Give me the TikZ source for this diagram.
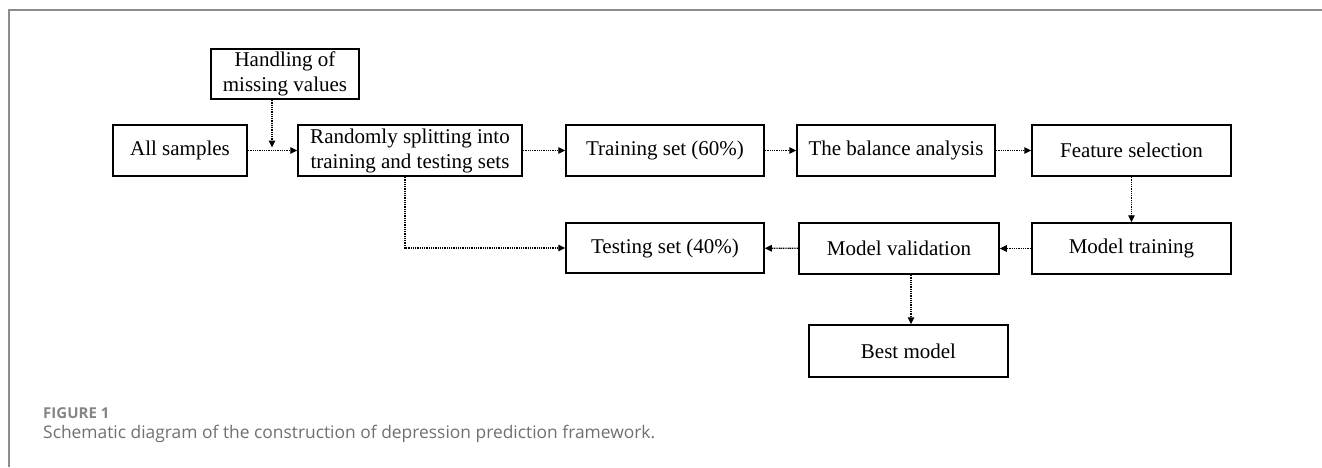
\documentclass[tikz,border=0pt]{standalone}
\usepackage{fontspec}
\setmainfont{Liberation Serif}
\newfontfamily\capfont{Open Sans}
\usetikzlibrary{arrows.meta}
\definecolor{framegray}{HTML}{8C8C8C}
\definecolor{capgray}{HTML}{707070}
\tikzset{
  box/.style={draw=black, line width=1.5pt, inner sep=0pt, align=center,
    font=\fontsize{21}{25}\selectfont, minimum width=198pt, minimum height=51pt},
  arr/.style={line width=1.3pt, dash pattern=on 1.1pt off 0.7pt,
    -{Triangle[length=7pt,width=6.5pt]}},
  capline/.style={anchor=base west, inner sep=0pt, text=capgray}
}
\begin{document}
\begin{tikzpicture}[x=1pt,y=-1pt]
\useasboundingbox (0,0) rectangle (1322,467);
% frame
\draw[framegray, line width=1.8pt] (9,467) -- (9,10) -- (1322,10);
% boxes
\node[box, minimum width=148pt, minimum height=50pt] (hand) at (285,74) {Handling of\\missing values};
\node[box, minimum width=134pt] (all) at (180,150.5) {All samples};
\node[box, minimum width=224pt] (rand) at (410,150.5) {Randomly splitting into\\training and testing sets};
\node[box] (train) at (665,150.5) {Training set (60\%)};
\node[box] (bal) at (896,150.5) {The balance analysis};
\node[box, minimum width=199pt] (feat) at (1131.5,150.5) {Feature selection};
\node[box, minimum height=50pt] (test) at (665,248) {Testing set (40\%)};
\node[box, minimum width=200pt] (val) at (899,248.5) {Model validation};
\node[box, minimum width=199pt] (mtrain) at (1131.5,248.5) {Model training};
\node[box, minimum width=199pt, minimum height=52pt] (best) at (908.5,351) {Best model};
% connector helpers
\coordinate (hm) at (272,149);
\coordinate (rs) at (405,249);
\coordinate (bx) at (911,300);
% connectors
\draw[arr] (all) -- (rand);
\draw[arr, shorten >=1.5pt] (hand.south -| hm) -- (hm);
\draw[arr] (rand) -- (train);
\draw[arr] (train) -- (bal);
\draw[arr] (bal) -- (feat);
\draw[arr] (feat) -- (mtrain);
\draw[arr] (mtrain) -- (val);
\draw[arr] (val) -- (test);
\draw[arr] (rand.south -| rs) |- (test.west);
\draw[arr] (val.south -| bx) -- (best.north -| bx);
% caption
\node[capline, font=\capfont\bfseries\fontsize{15}{17}\selectfont, text=capgray!85] (figlab) at (43,418) {FIGURE 1};
\node[capline, font=\capfont\fontsize{17.4}{20}\selectfont] (figcap) at (43,438) {Schematic diagram of the construction of depression prediction framework.};
\end{tikzpicture}
\end{document}
